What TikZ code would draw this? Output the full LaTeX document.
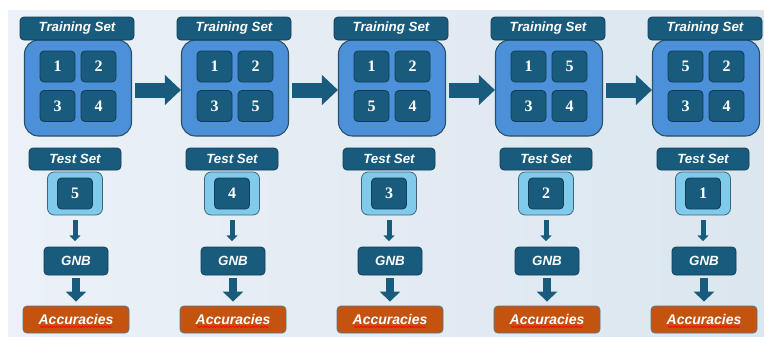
\documentclass[tikz,border=0pt]{standalone}
\usepackage{fontspec}
\setmainfont{Liberation Serif}
\newfontfamily\labelfont{Liberation Sans}
\usetikzlibrary{calc,arrows.meta,decorations.pathmorphing}

\definecolor{darkbox}{HTML}{185B7C}
\definecolor{edgecol}{HTML}{123D55}
\definecolor{bigfill}{HTML}{4C90DA}
\definecolor{testfill}{HTML}{80CAEB}
\definecolor{accfill}{HTML}{C4530F}
\definecolor{bgleft}{HTML}{EBF1F7}
\definecolor{bgright}{HTML}{DBE6EF}

\tikzset{
  tag/.style={fill=darkbox, draw=edgecol, line width=0.6pt, rounded corners=3pt,
    inner sep=0pt, text=white, font=\labelfont\bfseries\itshape\fontsize{10}{12}\selectfont},
  bigbox/.style={fill=bigfill, draw=edgecol!90, line width=0.8pt, rounded corners=10.5pt,
    minimum width=80.25pt, minimum height=72pt, inner sep=0pt},
  fold/.style={fill=darkbox, draw=edgecol, line width=0.6pt, rounded corners=3pt,
    minimum width=26.25pt, minimum height=23.25pt, inner sep=0pt, text=white,
    font=\bfseries\fontsize{12}{14}\selectfont},
  testbox/.style={fill=testfill, draw=edgecol!80, line width=0.6pt, rounded corners=5pt,
    minimum width=41.25pt, minimum height=32.25pt, inner sep=0pt},
  accbox/.style={fill=accfill, draw=edgecol!70, line width=0.6pt, rounded corners=3pt,
    minimum width=79.5pt, minimum height=20.25pt, inner sep=0pt, text=white,
    font=\labelfont\bfseries\itshape\fontsize{10.5}{12}\selectfont},
  squiggle/.style={red, line width=0.5pt, decorate,
    decoration={snake, amplitude=0.6pt, segment length=2.4pt}},
  bigarrow/.style={darkbox, line width=11.25pt, -{Triangle[width=21.75pt,length=12pt]}},
  smallarrow/.style={darkbox, line width=3.75pt, -{Triangle[width=8.25pt,length=4.5pt]}},
  midarrow/.style={darkbox, line width=6pt, -{Triangle[width=15pt,length=7.5pt]}}
}

\begin{document}
\begin{tikzpicture}[x=0.75pt,y=-0.75pt]
  % background
  \fill[white] (0,0) rectangle (764,336);
  \shade[left color=bgleft, right color=bgright] (8,10) rectangle (764,336);
  \useasboundingbox (0,0) rectangle (764,336);

  \foreach \i/\a/\b/\c/\d/\t in {0/1/2/3/4/5, 1/1/2/3/5/4, 2/1/2/5/4/3, 3/1/5/3/4/2, 4/5/2/3/4/1}{
    \coordinate (c\i) at (77+157*\i,0);
    % training folds
    \node[bigbox] (box\i) at ($(c\i)+(1,88)$) {};
    \node[tag, minimum width=85.5pt, minimum height=17.25pt] (tr\i) at ($(c\i)+(0,28.5)$) {Training Set};
    \node[fold] (fa\i) at ($(c\i)+(-19.5,66.5)$) {\a};
    \node[fold] (fb\i) at ($(c\i)+(21.5,66.5)$) {\b};
    \node[fold] (fc\i) at ($(c\i)+(-19.5,106)$) {\c};
    \node[fold] (fd\i) at ($(c\i)+(21.5,106)$) {\d};
    % test fold
    \node[tag, minimum width=69pt, minimum height=16.5pt] (ts\i) at ($(c\i)+(-2,159)$) {Test Set};
    \node[testbox] (test\i) at ($(c\i)+(-2,193.5)$) {};
    \node[fold] (ft\i) at (test\i) {\t};
    % classifier and result
    \node[tag, minimum width=48pt, minimum height=21pt] (gnb\i) at ($(c\i)+(-1,261)$) {GNB};
    \node[accbox] (acc\i) at ($(c\i)+(-1,319.5)$) {Accuracies};
    \draw[squiggle] ([xshift=-27pt,yshift=-5.5pt]acc\i.center) -- ([xshift=27pt,yshift=-5.5pt]acc\i.center);
    \draw[smallarrow, shorten <=3.75pt, shorten >=4pt] (test\i) -- (test\i |- gnb\i.north);
    \draw[midarrow, shorten <=2.25pt, shorten >=3pt] (gnb\i) -- (gnb\i |- acc\i.north);
  }

  \foreach \i/\j in {0/1, 1/2, 2/3, 3/4}{
    \draw[bigarrow, shorten <=2.25pt] ($(box\i.east)+(0,2)$) -- ($(box\j.west)+(0,2)$);
  }
\end{tikzpicture}
\end{document}
